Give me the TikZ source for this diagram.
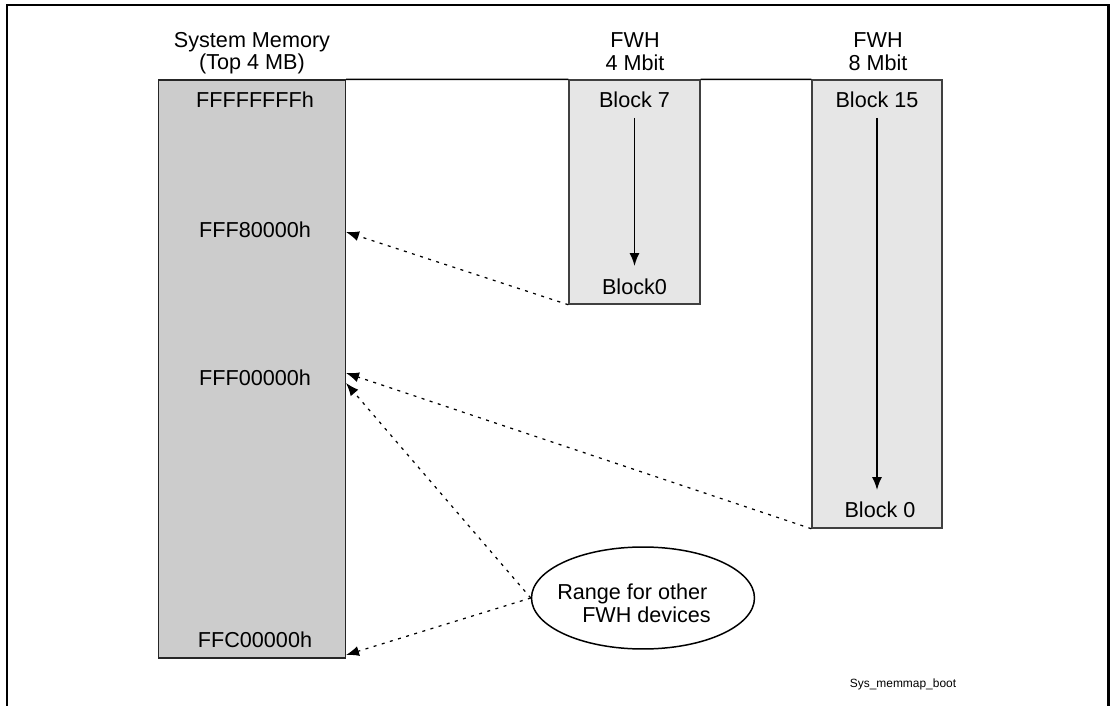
\documentclass[tikz,border=0pt]{standalone}
\usepackage{fontspec}
\setmainfont{Liberation Sans}
\usetikzlibrary{arrows.meta,shapes.geometric}
\definecolor{memgray}{HTML}{CCCCCC}
\definecolor{fwhgray}{HTML}{E6E6E6}
\tikzset{
    txt/.style={inner sep=0pt,font=\fontsize{12.3}{13}\selectfont},
    small txt/.style={inner sep=0pt,font=\fontsize{6.8}{8}\selectfont},
    mem box/.style={draw=black!85,line width=0.85pt,fill=memgray,inner sep=0pt},
    fwh box/.style={draw=black!75,line width=0.85pt,fill=fwhgray,inner sep=0pt},
    map/.style={line width=0.7pt,dash pattern=on 0.06cm off 0.11cm}
}

\begin{document}
\begin{tikzpicture}[x=0.02cm,y=-0.02cm,>={Latex[length=0.26cm,width=0.2cm]}]
    \useasboundingbox (0,0) rectangle (1110,706);
    \draw[line width=1.7pt] (7,706) -- (7,5) -- (1108,5) -- (1108,706);

    % headers
    \node[txt,anchor=base] (hdmem) at (252,48) {System Memory};
    \node[txt,anchor=base] (hdmemsz) at (252,70) {(Top 4 MB)};
    \node[txt,anchor=base] (hdfa) at (635,48) {FWH};
    \node[txt,anchor=base] (hdfasz) at (635,71) {4 Mbit};
    \node[txt,anchor=base] (hdfb) at (878,48) {FWH};
    \node[txt,anchor=base] (hdfbsz) at (878,71) {8 Mbit};

    % boxes
    \node[mem box,minimum width=3.74cm,minimum height=11.56cm] (mem) at (252,369) {};
    \node[fwh box,minimum width=2.62cm,minimum height=4.48cm] (fwhA) at (634.5,192) {};
    \node[fwh box,minimum width=2.6cm,minimum height=8.96cm] (fwhB) at (877,304) {};
    \draw[line width=0.85pt] (mem.north east) -- (fwhA.north west);
    \draw[line width=0.85pt] (fwhA.north east) -- (fwhB.north west);

    % addresses
    \node[txt] (adrtop) at (255,100) {FFFFFFFFh};
    \node[txt] (adr80) at (255,229.5) {FFF80000h};
    \node[txt] (adr00) at (255,378) {FFF00000h};
    \node[txt] (adrC0) at (255,640) {FFC00000h};

    % blocks
    \node[txt] (blkA) at (634.5,100) {Block 7};
    \node[txt] (blkAend) at (634.5,287) {Block0};
    \node[txt] (blkB) at (877,100) {Block 15};
    \node[txt] (blkBend) at (880,510) {Block 0};
    \draw[->,line width=0.85pt] ([yshift=-0.36cm]blkA.center) -- (634.5,266);
    \draw[->,line width=0.85pt] ([yshift=-0.36cm]blkB.center) -- (877,490);

    % other devices
    \node[draw,ellipse,line width=0.85pt,minimum width=4.46cm,minimum height=2.04cm] (range) at (643,598) {};
    \node[txt,align=left] (rangetxt) at (634,603) {Range for other\\\hspace*{0.5cm}FWH devices};

    \coordinate (tA) at (346,232);
    \coordinate (tB) at (346,373);
    \coordinate (tC) at (346,383);
    \coordinate (tD) at (346,655);
    \draw[->,map] (fwhA.south west) -- (tA);
    \draw[->,map] (fwhB.south west) -- (tB);
    \draw[->,map] (range.west) -- (tC);
    \draw[->,map] (range.west) -- (tD);

    \node[small txt] (tag) at (903,684) {Sys\_memmap\_boot};
\end{tikzpicture}
\end{document}
